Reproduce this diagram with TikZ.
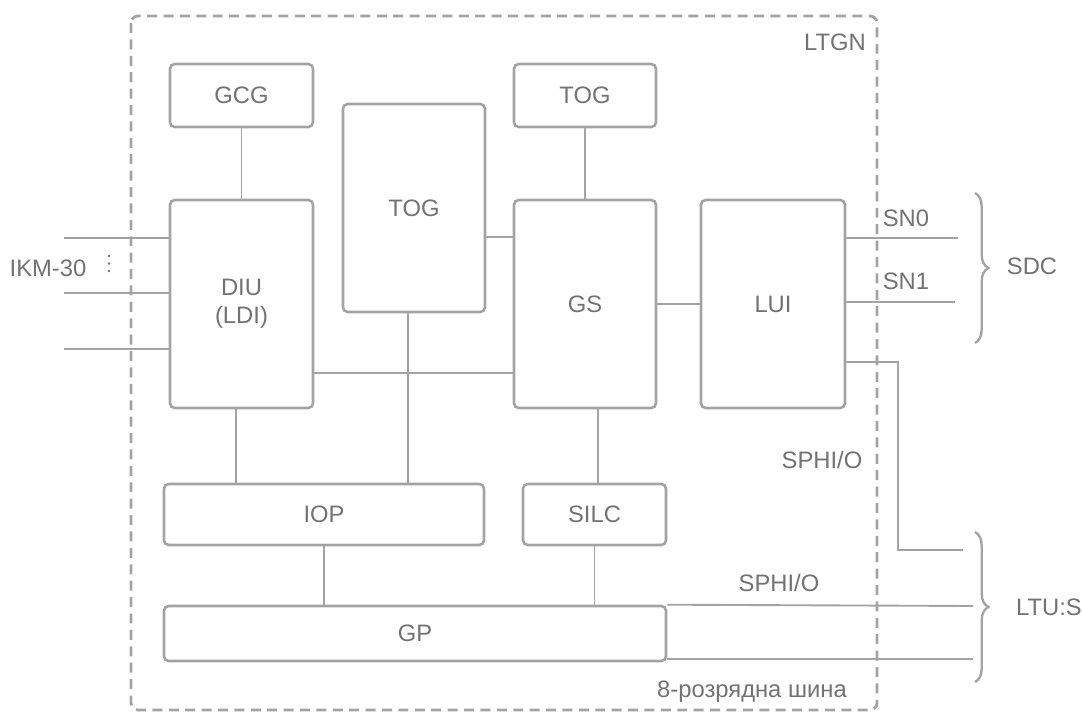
\documentclass[tikz,border=0pt]{standalone}
\usepackage{fontspec}
\setmainfont{Liberation Sans}
\usetikzlibrary{decorations.pathreplacing}
\definecolor{ln}{HTML}{A3A3A3}
\definecolor{tx}{HTML}{727272}

\begin{document}
\begin{tikzpicture}[
  x=0.03cm, y=-0.03cm,
  font=\fontsize{20.3}{24}\selectfont, text=tx,
  b/.style={draw=ln, line width=2.2pt, rounded corners=4pt, align=center,
            inner sep=0pt},
  w/.style={draw=ln, line width=1.6pt},
  br/.style={draw=ln, line width=2pt, decorate,
             decoration={brace, amplitude=0.4cm, aspect=0.5}}
]
\useasboundingbox (0,0) rectangle (1082,713);
\draw[ln, line width=2.4pt, dash pattern=on 8.5pt off 5.5pt, rounded corners=6pt]
  (131,16) rectangle (877,710);
\node (ltgn) at (835,42) {LTGN};

% blocks
\node[b, minimum width=4.29cm, minimum height=1.89cm] (gcg) at (241.5,95.5) {GCG};
\node[b, minimum width=4.26cm, minimum height=6.24cm] (tog) at (414,208) {TOG};
\node[b, minimum width=4.26cm, minimum height=1.89cm] (tog2) at (585,95.5) {TOG};
\node[b, minimum width=4.29cm, minimum height=6.24cm] (diu) at (241.5,304) {DIU\\(LDI)};
\node[b, minimum width=4.26cm, minimum height=6.24cm] (gs) at (585,304) {GS};
\node[b, minimum width=4.32cm, minimum height=6.24cm] (lui) at (773,304) {LUI};
\node[b, minimum width=9.6cm, minimum height=1.83cm] (iop) at (324,514.5) {IOP};
\node[b, minimum width=4.29cm, minimum height=1.83cm] (silc) at (594.5,514.5) {SILC};
\node[b, minimum width=15.06cm, minimum height=1.65cm] (gp) at (415,633.5) {GP};

% links
\foreach \x/\y in {gcg/diu, tog2/gs, gs/lui} {
  \draw[w] (\x) -- (\y);
}
\draw[w] ([yshift=-0.87cm]tog.east) -- ([yshift=-0.87cm]tog.east -| gs.west);
\draw[w] ([yshift=-2.07cm]diu.east) -- ([yshift=-2.07cm]diu.east -| gs.west);
\draw[w] ([xshift=-0.17cm]diu.south) -- ([xshift=-0.17cm]diu.south |- iop.north);
\draw[w] ([xshift=-0.18cm]tog.south) -- ([xshift=-0.18cm]tog.south |- iop.north);
\draw[w] ([xshift=0.39cm]gs.south) -- ([xshift=0.39cm]gs.south |- silc.north);
\draw[w] (iop.south) -- (iop.south |- gp.north);
\draw[w] (silc.south) -- (silc.south |- gp.north);

% inputs
\coordinate (in0) at (64,238);
\coordinate (in1) at (64,293);
\coordinate (in2) at (64,349);
\foreach \p in {in0, in1, in2} {
  \draw[w] (\p) -- (\p -| diu.west);
}
\node (ikm) at (48,268) {IKM-30};
\foreach \d in {256,263.5,271} {
  \fill[tx] (109,\d) circle (1.1pt);
}

% outputs
\coordinate (sn0) at (958,238);
\coordinate (sn1) at (955,302);
\draw[w] (sn0 -| lui.east) -- (sn0);
\draw[w] (sn1 -| lui.east) -- (sn1);
\node (lsn0) at (906,218) {SN0};
\node (lsn1) at (906,281) {SN1};
\coordinate (sdc0) at (975,193);
\coordinate (sdc1) at (975,343);
\draw[br] (sdc0) -- (sdc1);
\node (sdc) at (1032,266) {SDC};

\coordinate (k0) at (898,362);
\coordinate (k1) at (963,550);
\draw[w] (k0 -| lui.east) -- (k0) |- (k1);
\node (sph1) at (822,460) {SPHI/O};

\coordinate (bus0) at (973,606);
\coordinate (bus1) at (973,659);
\draw[w] (gp.north east) -- (bus0);
\draw[w] (bus1 -| gp.east) -- (bus1);
\node (sph2) at (779,583) {SPHI/O};
\coordinate (ltu0) at (975,532);
\coordinate (ltu1) at (975,682);
\draw[br] (ltu0) -- (ltu1);
\node (ltu) at (1049,607) {LTU:S};
\node (bus) at (752,692) {8-розрядна шина};
\end{tikzpicture}
\end{document}
